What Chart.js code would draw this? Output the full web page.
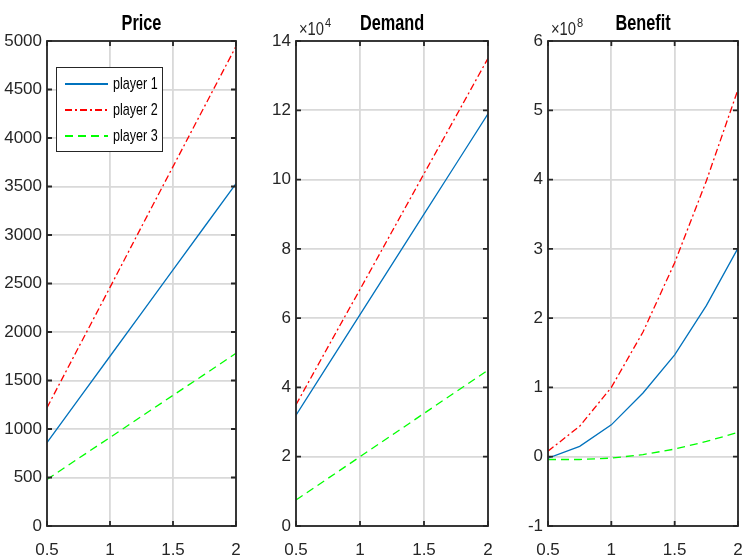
<!DOCTYPE html>
<html>
<head>
<meta charset="utf-8">
<script src="https://cdn.jsdelivr.net/npm/chart.js@4/dist/chart.umd.min.js"></script>
<style>
  html, body { margin: 0; padding: 0; background: #fff; }
  #wrap { position: relative; width: 742px; height: 557px; }
  #wrap canvas { position: absolute; left: 0; top: 0; }
</style>
</head>
<body>
<div id="wrap">
  <canvas id="c1" width="742" height="557"></canvas>
  <canvas id="c2" width="742" height="557"></canvas>
  <canvas id="c3" width="742" height="557"></canvas>
</div>
<script>
// ---- data ----
const xValues = [0.5, 0.75, 1, 1.25, 1.5, 1.75, 2];
const seriesNames = ['player 1', 'player 2', 'player 3'];

const priceP1 = [860, 1305, 1750, 2195, 2640, 3085, 3530];
const priceP2 = [1220, 1840, 2460, 3085, 3705, 4325, 4945];
const priceP3 = [480, 697, 913, 1130, 1347, 1563, 1780];

const demandP1 = [32000, 46500, 61000, 75500, 90000, 104500, 119000];
const demandP2 = [35000, 51700, 68300, 85000, 101700, 118300, 135000];
const demandP3 = [7500, 13750, 20000, 26250, 32500, 38750, 45000];

const benefitP1 = [-0.02e8, 0.15e8, 0.46e8, 0.92e8, 1.47e8, 2.18e8, 3.01e8];
const benefitP2 = [0.08e8, 0.44e8, 1.0e8, 1.8e8, 2.8e8, 3.98e8, 5.3e8];
const benefitP3 = [-0.04e8, -0.04e8, -0.02e8, 0.03e8, 0.11e8, 0.22e8, 0.35e8];

const xTicks = [0.5, 1, 1.5, 2];
const titles = ['Price', 'Demand', 'Benefit'];
const exponents = [null, 4, 8];
const yRanges = [[0, 5000, 500], [0, 140000, 20000], [-1e8, 6e8, 1e8]];

// ---- styles ----
const TXT = '#262626';
const FONT = "'Liberation Sans', Arial, sans-serif";
const styles = [
  { borderColor: '#0072BD', borderDash: [] },
  { borderColor: '#FF0000', borderDash: [7, 3, 2, 3] },
  { borderColor: '#00FF00', borderDash: [8, 5] }
];

function makeDatasets(arrs) {
  return arrs.map((vals, i) => ({
    label: seriesNames[i],
    data: xValues.map((x, k) => ({ x: x, y: vals[k] })),
    borderColor: styles[i].borderColor,
    borderDash: styles[i].borderDash,
    borderWidth: 1.3,
    pointRadius: 0,
    fill: false,
    tension: 0
  }));
}

// draw horizontally condensed text
function condText(ctx, text, x, y, sx) {
  ctx.save();
  ctx.translate(x, y);
  ctx.scale(sx, 1);
  ctx.fillText(text, 0, 0);
  ctx.restore();
}

// plugin: box, inward ticks, title, exponent, legend
const decor = {
  id: 'decor',
  afterDatasetsDraw(chart, args, opts) {
    const ctx = chart.ctx;
    const a = chart.chartArea;
    const xs = chart.scales.x, ys = chart.scales.y;
    ctx.save();
    ctx.strokeStyle = TXT;
    ctx.lineWidth = 1.8;
    ctx.setLineDash([]);
    ctx.strokeRect(a.left, a.top, a.right - a.left, a.bottom - a.top);
    const tl = 5;
    ctx.beginPath();
    xs.ticks.forEach(t => {
      const px = xs.getPixelForValue(t.value);
      ctx.moveTo(px, a.bottom); ctx.lineTo(px, a.bottom - tl);
      ctx.moveTo(px, a.top); ctx.lineTo(px, a.top + tl);
    });
    ys.ticks.forEach(t => {
      const py = ys.getPixelForValue(t.value);
      ctx.moveTo(a.left, py); ctx.lineTo(a.left + tl, py);
      ctx.moveTo(a.right, py); ctx.lineTo(a.right - tl, py);
    });
    ctx.stroke();

    // title
    ctx.fillStyle = '#000';
    ctx.font = "bold 22px " + FONT;
    ctx.textAlign = 'center';
    ctx.textBaseline = 'alphabetic';
    condText(ctx, opts.title, (a.left + a.right) / 2, a.top - 11, 0.74);

    // exponent
    if (opts.exponent) {
      ctx.fillStyle = TXT;
      ctx.textAlign = 'left';
      ctx.font = "18px " + FONT;
      let x = a.left + 3;
      const base = a.top - 6;
      condText(ctx, '\u00D710', x, base, 0.82);
      x += ctx.measureText('\u00D710').width * 0.82 + 1;
      ctx.font = "13px " + FONT;
      condText(ctx, String(opts.exponent), x, base - 8, 0.85);
    }

    // legend
    if (opts.legend) {
      const lx = a.left + 9, ly = a.top + 26;
      const w = 106, h = 84;
      ctx.fillStyle = '#fff';
      ctx.fillRect(lx, ly, w, h);
      ctx.strokeStyle = '#262626';
      ctx.lineWidth = 1;
      ctx.strokeRect(lx + 0.5, ly + 0.5, w, h);
      chart.data.datasets.forEach((ds, i) => {
        const ry = ly + 17 + i * 26;
        ctx.beginPath();
        ctx.strokeStyle = ds.borderColor;
        ctx.lineWidth = 2;
        ctx.setLineDash(ds.borderDash || []);
        ctx.moveTo(lx + 9, ry);
        ctx.lineTo(lx + 52, ry);
        ctx.stroke();
        ctx.setLineDash([]);
        ctx.fillStyle = '#000';
        ctx.font = "17px " + FONT;
        ctx.textAlign = 'left';
        ctx.textBaseline = 'middle';
        condText(ctx, ds.label, lx + 57, ry, 0.74);
      });
    }
    ctx.restore();
  }
};

const plotLefts = [47, 296, 548];
const plotRights = [236, 488, 738];
const PLOT_TOP = 41, PLOT_BOTTOM = 526;
const YW = 47, XH = 31;
const allData = [
  [priceP1, priceP2, priceP3],
  [demandP1, demandP2, demandP3],
  [benefitP1, benefitP2, benefitP3]
];

function fmtY(i, v) {
  if (exponents[i]) v = v / Math.pow(10, exponents[i]);
  return String(Math.round(v * 1000) / 1000);
}

['c1', 'c2', 'c3'].forEach((id, i) => {
  new Chart(document.getElementById(id), {
    type: 'line',
    data: { datasets: makeDatasets(allData[i]) },
    plugins: [decor],
    options: {
      responsive: false,
      animation: false,
      devicePixelRatio: 1,
      events: [],
      layout: {
        padding: {
          left: plotLefts[i] - YW,
          right: 742 - plotRights[i],
          top: PLOT_TOP,
          bottom: 557 - PLOT_BOTTOM - XH
        }
      },
      plugins: {
        legend: { display: false },
        tooltip: { enabled: false },
        title: { display: false },
        decor: { title: titles[i], exponent: exponents[i], legend: i === 0 }
      },
      scales: {
        x: {
          type: 'linear',
          min: 0.5, max: 2,
          afterBuildTicks(s) { s.ticks = xTicks.map(v => ({ value: v })); },
          afterFit(s) { s.height = XH; s.paddingLeft = 0; s.paddingRight = 0; },
          grid: { color: '#d9d9d9', lineWidth: 1.8, drawTicks: false },
          border: { display: false },
          ticks: {
            color: TXT, padding: 14,
            font: { family: FONT, size: 17 },
            maxRotation: 0, autoSkip: false,
            callback: v => String(v)
          }
        },
        y: {
          type: 'linear',
          min: yRanges[i][0], max: yRanges[i][1],
          ticks: {
            stepSize: yRanges[i][2],
            color: TXT, padding: 5,
            font: { family: FONT, size: 17 },
            autoSkip: false,
            callback: v => fmtY(i, v)
          },
          afterFit(s) { s.width = YW; s.paddingTop = 0; s.paddingBottom = 0; },
          grid: { color: '#d9d9d9', lineWidth: 1.8, drawTicks: false },
          border: { display: false }
        }
      }
    }
  });
});
</script>
</body>
</html>
